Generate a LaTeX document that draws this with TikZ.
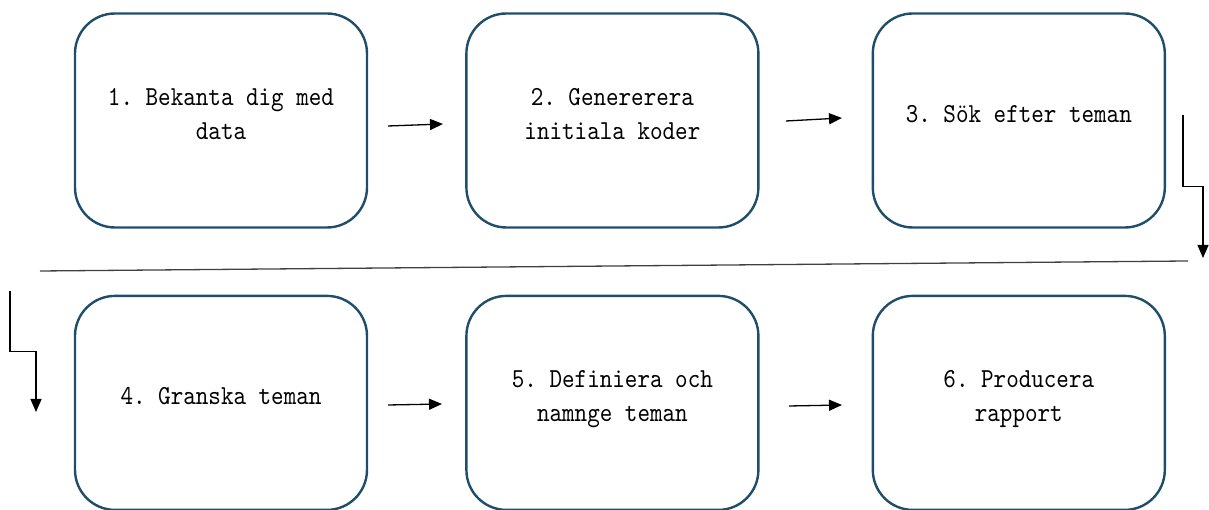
\documentclass[tikz,border=0pt]{standalone}
\usepackage{fontspec}
\setmonofont{lmmono10-regular}[Extension=.otf, FakeStretch=0.87]
\usepackage{xcolor}
\usetikzlibrary{arrows.meta, positioning, calc}
\definecolor{boxblue}{RGB}{31,78,107}

\begin{document}
\begin{tikzpicture}[
    x=1pt, y=1pt,
    stepbox/.style={rectangle, draw=boxblue, line width=2.4pt, rounded corners=40pt, minimum width=292pt, minimum height=214pt, align=center, inner sep=0pt, text depth=14pt, font=\ttfamily\fontsize{27.5}{34}\selectfont},
    arr/.style={-{Triangle[length=13pt, width=11pt]}, line width=1.3pt},
    sepline/.style={line width=1.3pt, black!75},
]
\useasboundingbox (0,0) rectangle (1209,510);

% Top row
\node[stepbox] (s1) at (221,389.5) {1. Bekanta dig med\\data};
\node[stepbox, right=97pt of s1] (s2) {2. Genererera\\initiala koder};
\node[stepbox, right=112pt of s2] (s3) {3. Sök efter teman};

% Bottom row
\node[stepbox, below=66pt of s1] (s4) {4. Granska teman};
\node[stepbox, below=66pt of s2] (s5) {5. Definiera och\\namnge teman};
\node[stepbox, below=66pt of s3] (s6) {6. Producera\\rapport};

% Arrows between boxes
\coordinate (a12s) at (388,384);  \coordinate (a12e) at (443,386);
\coordinate (a23s) at (786,389);  \coordinate (a23e) at (842,392);
\coordinate (a45s) at (388,105);  \coordinate (a45e) at (442,106);
\coordinate (a56s) at (789,104);  \coordinate (a56e) at (842,105);
\draw[arr] (a12s) -- (a12e);
\draw[arr] (a23s) -- (a23e);
\draw[arr] (a45s) -- (a45e);
\draw[arr] (a56s) -- (a56e);

% Row change
\coordinate (rtop) at (1183,395);
\coordinate (rend) at (1203,252);
\coordinate (ltop) at (10,219);
\coordinate (lend) at (36,98);
\draw[arr] (rtop) |- ($(rtop)!0.5!(rend)$) -| (rend);
\draw[arr] (ltop) |- ($(ltop)!0.5!(lend)$) -| (lend);

% Separator
\coordinate (sepl) at (40,239);
\coordinate (sepr) at (1188,249);
\draw[sepline] (sepl) -- (sepr);

\end{tikzpicture}
\end{document}
